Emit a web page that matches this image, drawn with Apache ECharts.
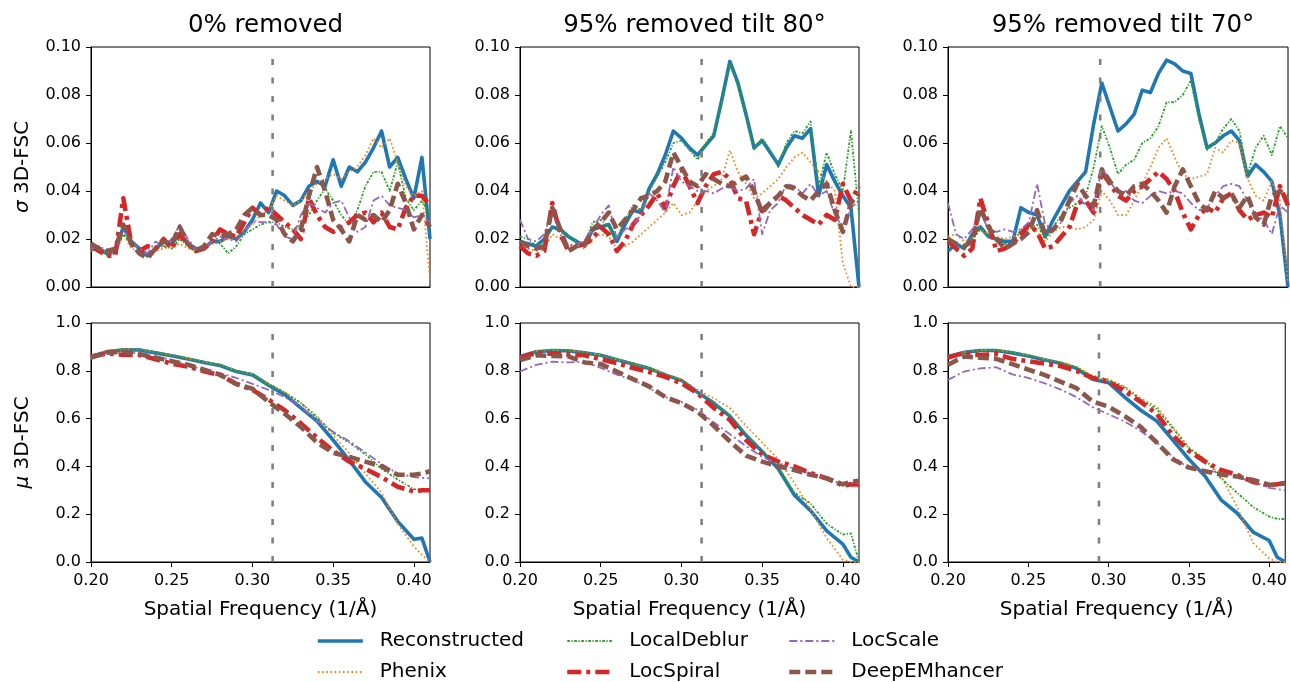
<!DOCTYPE html>
<html><head><meta charset="utf-8">
<script src="https://cdn.jsdelivr.net/npm/echarts@6/dist/echarts.min.js"></script>
<style>html,body{margin:0;padding:0;background:#fff}#c{width:1290px;height:682px}</style>
</head><body><div id="c"></div>
<script>
// ---------------- data ----------------
const X_SIGMA = [0.200,0.205,0.210,0.215,0.220,0.225,0.230,0.235,0.240,0.245,0.250,0.255,0.260,0.265,0.270,0.275,0.280,0.285,0.290,0.295,0.300,0.305,0.310,0.315,0.320,0.325,0.330,0.335,0.340,0.345,0.350,0.355,0.360,0.365,0.370,0.375,0.380,0.385,0.390,0.395,0.400,0.405,0.410];
const X_MU = [0.20,0.21,0.22,0.23,0.24,0.25,0.26,0.27,0.28,0.29,0.30,0.31,0.32,0.33,0.34,0.35,0.36,0.37,0.38,0.39,0.40,0.405,0.41];
const X_TICKS = [0.20,0.25,0.30,0.35,0.40];
const PANEL_TITLES = ['0% removed','95% removed tilt 80°','95% removed tilt 70°'];
const CUTOFFS = [0.3125, 0.3125, 0.294];
const SERIES_NAMES = ['Reconstructed','Phenix','LocalDeblur','LocSpiral','LocScale','DeepEMhancer'];

// sigma 3D-FSC, 0% removed
const sig0Recon   = [0.017,0.016,0.014,0.015,0.025,0.019,0.016,0.013,0.016,0.019,0.018,0.022,0.018,0.016,0.016,0.019,0.019,0.021,0.020,0.023,0.028,0.035,0.031,0.040,0.038,0.034,0.036,0.042,0.044,0.042,0.053,0.042,0.050,0.048,0.052,0.058,0.065,0.050,0.054,0.045,0.037,0.054,0.020];
const sig0Phenix  = [0.015,0.017,0.014,0.014,0.022,0.016,0.015,0.014,0.015,0.016,0.017,0.018,0.016,0.015,0.016,0.018,0.019,0.020,0.021,0.024,0.026,0.030,0.032,0.038,0.036,0.034,0.036,0.040,0.043,0.045,0.047,0.045,0.048,0.050,0.055,0.062,0.058,0.062,0.052,0.042,0.038,0.040,0.003];
const sig0Deblur  = [0.015,0.016,0.013,0.014,0.022,0.018,0.016,0.014,0.016,0.017,0.016,0.020,0.017,0.015,0.016,0.019,0.018,0.014,0.017,0.022,0.024,0.026,0.027,0.027,0.025,0.024,0.026,0.030,0.036,0.041,0.036,0.030,0.026,0.032,0.042,0.048,0.048,0.040,0.052,0.037,0.032,0.036,0.030];
const sig0Spiral  = [0.017,0.015,0.013,0.013,0.037,0.018,0.015,0.017,0.016,0.020,0.016,0.022,0.018,0.015,0.016,0.019,0.024,0.022,0.021,0.027,0.033,0.030,0.033,0.030,0.027,0.024,0.020,0.037,0.030,0.025,0.023,0.025,0.027,0.030,0.031,0.027,0.031,0.025,0.024,0.033,0.038,0.038,0.034];
const sig0Scale   = [0.016,0.017,0.015,0.015,0.024,0.019,0.016,0.014,0.019,0.017,0.020,0.026,0.020,0.016,0.016,0.019,0.021,0.020,0.019,0.023,0.027,0.027,0.027,0.026,0.021,0.020,0.030,0.035,0.033,0.031,0.035,0.036,0.029,0.023,0.025,0.036,0.038,0.034,0.033,0.032,0.029,0.030,0.027];
const sig0DeepEM  = [0.018,0.016,0.015,0.016,0.026,0.018,0.014,0.012,0.016,0.019,0.018,0.025,0.018,0.015,0.017,0.022,0.021,0.022,0.024,0.030,0.033,0.030,0.030,0.028,0.022,0.019,0.024,0.038,0.050,0.040,0.028,0.024,0.019,0.030,0.028,0.030,0.027,0.032,0.043,0.035,0.024,0.030,0.025];

// sigma 3D-FSC, 95% removed tilt 80
const sig80Recon  = [0.019,0.018,0.017,0.020,0.025,0.024,0.021,0.019,0.017,0.024,0.025,0.026,0.019,0.026,0.032,0.031,0.041,0.047,0.055,0.065,0.062,0.058,0.055,0.059,0.063,0.078,0.094,0.085,0.072,0.058,0.061,0.056,0.051,0.058,0.063,0.062,0.066,0.038,0.051,0.044,0.038,0.033,0.000];
const sig80Phenix = [0.017,0.016,0.015,0.016,0.022,0.020,0.018,0.017,0.016,0.020,0.022,0.021,0.016,0.017,0.019,0.022,0.025,0.028,0.031,0.035,0.030,0.031,0.036,0.040,0.042,0.045,0.057,0.048,0.043,0.037,0.039,0.042,0.045,0.050,0.054,0.056,0.052,0.048,0.044,0.040,0.010,0.000,0.000];
const sig80Deblur = [0.021,0.020,0.017,0.019,0.025,0.023,0.021,0.019,0.018,0.027,0.028,0.025,0.020,0.028,0.034,0.032,0.040,0.046,0.052,0.060,0.061,0.057,0.053,0.060,0.064,0.077,0.093,0.084,0.071,0.057,0.062,0.057,0.050,0.060,0.065,0.064,0.069,0.042,0.056,0.047,0.040,0.065,0.030];
const sig80Spiral = [0.017,0.014,0.013,0.015,0.035,0.022,0.015,0.017,0.018,0.020,0.025,0.022,0.015,0.019,0.026,0.030,0.034,0.039,0.033,0.042,0.049,0.042,0.035,0.042,0.047,0.048,0.045,0.037,0.036,0.022,0.032,0.035,0.038,0.036,0.033,0.030,0.028,0.026,0.030,0.028,0.043,0.036,0.042];
const sig80Scale  = [0.028,0.020,0.019,0.022,0.032,0.022,0.017,0.018,0.019,0.024,0.030,0.034,0.020,0.024,0.026,0.030,0.039,0.036,0.031,0.050,0.044,0.042,0.040,0.040,0.039,0.041,0.042,0.040,0.041,0.045,0.022,0.032,0.035,0.043,0.042,0.039,0.043,0.038,0.040,0.030,0.025,0.033,0.036];
const sig80DeepEM = [0.019,0.017,0.016,0.017,0.033,0.024,0.015,0.017,0.018,0.024,0.027,0.031,0.024,0.028,0.032,0.037,0.038,0.040,0.044,0.056,0.050,0.044,0.042,0.047,0.045,0.043,0.042,0.044,0.046,0.040,0.031,0.035,0.038,0.042,0.041,0.038,0.036,0.040,0.043,0.032,0.023,0.035,0.039];

// sigma 3D-FSC, 95% removed tilt 70
const sig70Recon  = [0.015,0.018,0.016,0.022,0.025,0.021,0.020,0.019,0.019,0.033,0.031,0.030,0.021,0.028,0.034,0.040,0.044,0.048,0.068,0.085,0.075,0.065,0.068,0.072,0.082,0.081,0.089,0.0945,0.093,0.090,0.089,0.072,0.058,0.060,0.063,0.065,0.061,0.046,0.051,0.048,0.044,0.030,0.000];
const sig70Phenix = [0.021,0.022,0.019,0.020,0.024,0.022,0.021,0.020,0.021,0.022,0.026,0.023,0.019,0.023,0.025,0.025,0.024,0.025,0.028,0.040,0.036,0.030,0.030,0.036,0.043,0.050,0.058,0.062,0.054,0.047,0.045,0.046,0.047,0.058,0.056,0.061,0.060,0.045,0.038,0.036,0.044,0.036,0.002];
const sig70Deblur = [0.018,0.017,0.016,0.020,0.024,0.021,0.019,0.018,0.018,0.024,0.024,0.026,0.020,0.025,0.030,0.033,0.035,0.038,0.050,0.067,0.058,0.047,0.051,0.053,0.060,0.062,0.067,0.077,0.077,0.080,0.086,0.070,0.057,0.060,0.066,0.070,0.065,0.047,0.058,0.063,0.055,0.067,0.062];
const sig70Spiral = [0.019,0.016,0.013,0.016,0.037,0.026,0.015,0.016,0.018,0.022,0.026,0.023,0.016,0.017,0.021,0.025,0.035,0.036,0.031,0.048,0.043,0.038,0.036,0.040,0.042,0.045,0.048,0.045,0.040,0.031,0.024,0.030,0.033,0.031,0.037,0.039,0.032,0.028,0.030,0.031,0.029,0.042,0.034];
const sig70Scale  = [0.035,0.022,0.020,0.024,0.031,0.024,0.023,0.024,0.023,0.024,0.027,0.043,0.026,0.024,0.027,0.035,0.038,0.034,0.032,0.050,0.044,0.039,0.040,0.036,0.035,0.038,0.040,0.039,0.040,0.039,0.035,0.032,0.033,0.038,0.042,0.043,0.042,0.036,0.030,0.028,0.022,0.034,0.031];
const sig70DeepEM = [0.020,0.018,0.017,0.019,0.033,0.025,0.020,0.016,0.018,0.020,0.023,0.032,0.022,0.024,0.028,0.036,0.043,0.038,0.034,0.049,0.044,0.040,0.038,0.042,0.043,0.040,0.036,0.031,0.042,0.049,0.042,0.035,0.032,0.040,0.037,0.039,0.033,0.038,0.029,0.026,0.038,0.040,0.038];

// mu 3D-FSC, 0% removed
const mu0Recon   = [0.86,0.88,0.888,0.887,0.875,0.863,0.849,0.835,0.822,0.797,0.783,0.74,0.70,0.645,0.59,0.51,0.425,0.335,0.27,0.17,0.095,0.10,0.0];
const mu0Phenix  = [0.86,0.882,0.89,0.89,0.877,0.865,0.852,0.838,0.825,0.80,0.786,0.745,0.71,0.665,0.61,0.53,0.455,0.37,0.29,0.16,0.065,0.03,0.0];
const mu0Deblur  = [0.86,0.882,0.89,0.89,0.878,0.866,0.852,0.838,0.825,0.80,0.787,0.745,0.71,0.665,0.605,0.54,0.50,0.45,0.39,0.345,0.305,0.30,0.295];
const mu0Spiral  = [0.86,0.872,0.867,0.866,0.848,0.83,0.818,0.798,0.782,0.745,0.72,0.68,0.635,0.58,0.52,0.465,0.42,0.39,0.355,0.315,0.295,0.30,0.30];
const mu0Scale   = [0.85,0.87,0.877,0.873,0.86,0.845,0.823,0.805,0.79,0.77,0.745,0.72,0.69,0.65,0.59,0.545,0.505,0.458,0.41,0.37,0.355,0.352,0.35];
const mu0DeepEM  = [0.855,0.878,0.878,0.87,0.855,0.84,0.825,0.805,0.783,0.745,0.725,0.67,0.62,0.565,0.50,0.457,0.44,0.42,0.40,0.365,0.365,0.37,0.38];

// mu 3D-FSC, 95% removed tilt 80
const mu80Recon  = [0.86,0.88,0.885,0.884,0.875,0.865,0.846,0.828,0.81,0.783,0.76,0.71,0.665,0.61,0.53,0.462,0.39,0.28,0.215,0.13,0.075,0.02,0.0];
const mu80Phenix = [0.86,0.882,0.887,0.886,0.877,0.866,0.848,0.83,0.812,0.787,0.765,0.72,0.685,0.645,0.57,0.50,0.43,0.33,0.22,0.10,0.01,0.0,0.0];
const mu80Deblur = [0.86,0.88,0.885,0.885,0.876,0.866,0.848,0.83,0.812,0.785,0.762,0.712,0.667,0.612,0.535,0.465,0.395,0.29,0.245,0.16,0.115,0.12,0.0];
const mu80Spiral = [0.855,0.875,0.872,0.868,0.865,0.848,0.832,0.812,0.795,0.775,0.748,0.706,0.645,0.595,0.51,0.45,0.42,0.40,0.372,0.35,0.32,0.325,0.325];
const mu80Scale  = [0.797,0.825,0.838,0.835,0.838,0.812,0.784,0.762,0.728,0.69,0.67,0.636,0.585,0.535,0.485,0.44,0.41,0.39,0.37,0.35,0.325,0.33,0.33];
const mu80DeepEM = [0.845,0.865,0.862,0.86,0.835,0.828,0.797,0.765,0.735,0.69,0.665,0.628,0.57,0.505,0.445,0.42,0.40,0.385,0.365,0.35,0.325,0.335,0.34];

// mu 3D-FSC, 95% removed tilt 70
const mu70Recon  = [0.86,0.877,0.885,0.885,0.875,0.862,0.846,0.832,0.81,0.765,0.75,0.69,0.635,0.59,0.51,0.43,0.36,0.26,0.205,0.125,0.09,0.02,0.0];
const mu70Phenix = [0.86,0.878,0.887,0.887,0.878,0.866,0.85,0.836,0.817,0.78,0.765,0.735,0.685,0.65,0.565,0.48,0.43,0.36,0.23,0.08,0.015,0.0,0.0];
const mu70Deblur = [0.86,0.878,0.886,0.886,0.877,0.865,0.848,0.834,0.815,0.775,0.76,0.73,0.68,0.64,0.56,0.475,0.43,0.35,0.29,0.23,0.19,0.18,0.18];
const mu70Spiral = [0.855,0.875,0.866,0.87,0.85,0.84,0.83,0.82,0.80,0.77,0.755,0.715,0.67,0.62,0.53,0.465,0.42,0.385,0.365,0.335,0.32,0.325,0.33];
const mu70Scale  = [0.762,0.797,0.81,0.815,0.785,0.77,0.748,0.722,0.69,0.648,0.618,0.588,0.548,0.50,0.44,0.392,0.385,0.372,0.357,0.336,0.31,0.305,0.30];
const mu70DeepEM = [0.825,0.86,0.855,0.85,0.828,0.805,0.783,0.755,0.727,0.672,0.65,0.61,0.565,0.50,0.43,0.395,0.38,0.366,0.358,0.343,0.323,0.325,0.33];

// ---------------- assembly ----------------
const SIGMA_SETS = [
  [sig0Recon, sig0Phenix, sig0Deblur, sig0Spiral, sig0Scale, sig0DeepEM],
  [sig80Recon, sig80Phenix, sig80Deblur, sig80Spiral, sig80Scale, sig80DeepEM],
  [sig70Recon, sig70Phenix, sig70Deblur, sig70Spiral, sig70Scale, sig70DeepEM]
];
const MU_SETS = [
  [mu0Recon, mu0Phenix, mu0Deblur, mu0Spiral, mu0Scale, mu0DeepEM],
  [mu80Recon, mu80Phenix, mu80Deblur, mu80Spiral, mu80Scale, mu80DeepEM],
  [mu70Recon, mu70Phenix, mu70Deblur, mu70Spiral, mu70Scale, mu70DeepEM]
];

const FONT = 'DejaVu Sans';
const STYLES = {
  'Reconstructed': {color:'#1f77b4', width:3.6, type:'solid'},
  'Phenix':        {color:'#ff7f0e', width:1.8, type:[1.6,2.6]},
  'LocalDeblur':   {color:'#2ca02c', width:1.8, type:[2.6,1.6,1.2,1.6]},
  'LocSpiral':     {color:'#d62728', width:4.6, type:[14,5,4,5]},
  'LocScale':      {color:'#9467bd', width:1.8, type:[8,3,2,3]},
  'DeepEMhancer':  {color:'#8c564b', width:4.6, type:[11,5]}
};

const COL_LEFT = [91, 520, 948];
const COL_WIDTH = [339, 339, 340];
const ROW_TOP = [47, 323];
const ROW_HEIGHT = [240, 239];

const grids = [], xAxes = [], yAxes = [], series = [], titles = [];
for (let r = 0; r < 2; r++) {
  for (let c = 0; c < 3; c++) {
    const gi = r * 3 + c;
    const bottom = r === 1;
    const yMax = bottom ? 1 : 0.1;
    grids.push({left: COL_LEFT[c], top: ROW_TOP[r], width: COL_WIDTH[c], height: ROW_HEIGHT[r],
      show: true, borderColor: '#000', borderWidth: 1, backgroundColor: 'transparent', containLabel: false});
    xAxes.push({
      gridIndex: gi, type: 'value', min: 0.2, max: 0.41,
      axisLine: {show: true, onZero: false, lineStyle: {color: '#000', width: 1}},
      axisTick: {show: bottom, customValues: X_TICKS, length: 5, lineStyle: {color: '#000', width: 1}},
      axisLabel: {show: bottom, customValues: X_TICKS, formatter: v => v.toFixed(2), color: '#000',
        fontSize: 16, fontFamily: FONT, margin: 11},
      splitLine: {show: false},
      name: bottom ? 'Spatial Frequency (1/Å)' : '',
      nameLocation: 'middle', nameGap: 38,
      nameTextStyle: {fontSize: 20, color: '#000', fontFamily: FONT}
    });
    const yName = c === 0 ? (bottom ? '{g|μ} 3D-FSC' : '{g|σ} 3D-FSC') : '';
    yAxes.push({
      gridIndex: gi, type: 'value', min: 0, max: yMax, interval: bottom ? 0.2 : 0.02,
      axisLine: {show: true, onZero: false, lineStyle: {color: '#000', width: 1}},
      axisTick: {show: true, length: 5, lineStyle: {color: '#000', width: 1}},
      axisLabel: {formatter: v => v.toFixed(bottom ? 1 : 2), color: '#000', fontSize: 16, fontFamily: FONT, margin: 10},
      splitLine: {show: false},
      name: yName, nameLocation: 'middle', nameGap: 58, nameRotate: 90,
      nameTextStyle: {fontSize: 20, color: '#000', fontFamily: FONT,
        rich: {g: {fontSize: 20, color: '#000', fontFamily: FONT, fontStyle: 'italic'}}}
    });
    const sets = bottom ? MU_SETS[c] : SIGMA_SETS[c];
    const xs = bottom ? X_MU : X_SIGMA;
    SERIES_NAMES.forEach((name, k) => {
      const st = STYLES[name];
      series.push({
        name, type: 'line', xAxisIndex: gi, yAxisIndex: gi,
        data: xs.map((x, i) => [x, sets[k][i]]),
        showSymbol: false, symbol: 'circle', smooth: false, clip: true,
        lineStyle: {color: st.color, width: st.width, type: st.type, cap: 'butt', join: 'round'},
        itemStyle: {color: st.color},
        emphasis: {disabled: true}, silent: true, animation: false
      });
    });
    // resolution cutoff marker (vertical dashed line), drawn from its x value through the axes
    series.push({
      name: 'cutoff', type: 'line', xAxisIndex: gi, yAxisIndex: gi,
      data: [[CUTOFFS[c], 0], [CUTOFFS[c], yMax]],
      showSymbol: false, symbol: 'none', clip: true,
      lineStyle: {color: '#808080', width: 2.6, type: [6, 12.5], cap: 'butt'},
      emphasis: {disabled: true}, silent: true, animation: false
    });
  }
}
for (let c = 0; c < 3; c++) {
  titles.push({text: PANEL_TITLES[c], left: COL_LEFT[c] + COL_WIDTH[c] / 2, top: 8, textAlign: 'center',
    textStyle: {fontSize: 24.5, fontWeight: 'normal', color: '#000', fontFamily: FONT}});
}

const legendBase = {
  orient: 'vertical', top: 631, padding: 0, itemWidth: 45, itemHeight: 14, itemGap: 11,
  selectedMode: false,
  itemStyle: {opacity: 0},
  lineStyle: {width: 'inherit'},
  textStyle: {fontSize: 20, color: '#000', fontFamily: FONT, padding: [0, 0, 0, 12]}
};
const legends = [
  Object.assign({}, legendBase, {left: 316, data: ['Reconstructed', 'Phenix']}),
  Object.assign({}, legendBase, {left: 565, data: ['LocalDeblur', 'LocSpiral']}),
  Object.assign({}, legendBase, {left: 787, data: ['LocScale', 'DeepEMhancer']})
];

const chart = echarts.init(document.getElementById('c'), null, {renderer: 'canvas'});
chart.setOption({
  animation: false,
  backgroundColor: '#fff',
  title: titles,
  legend: legends,
  grid: grids,
  xAxis: xAxes,
  yAxis: yAxes,
  series: series
});
</script>
</body></html>
